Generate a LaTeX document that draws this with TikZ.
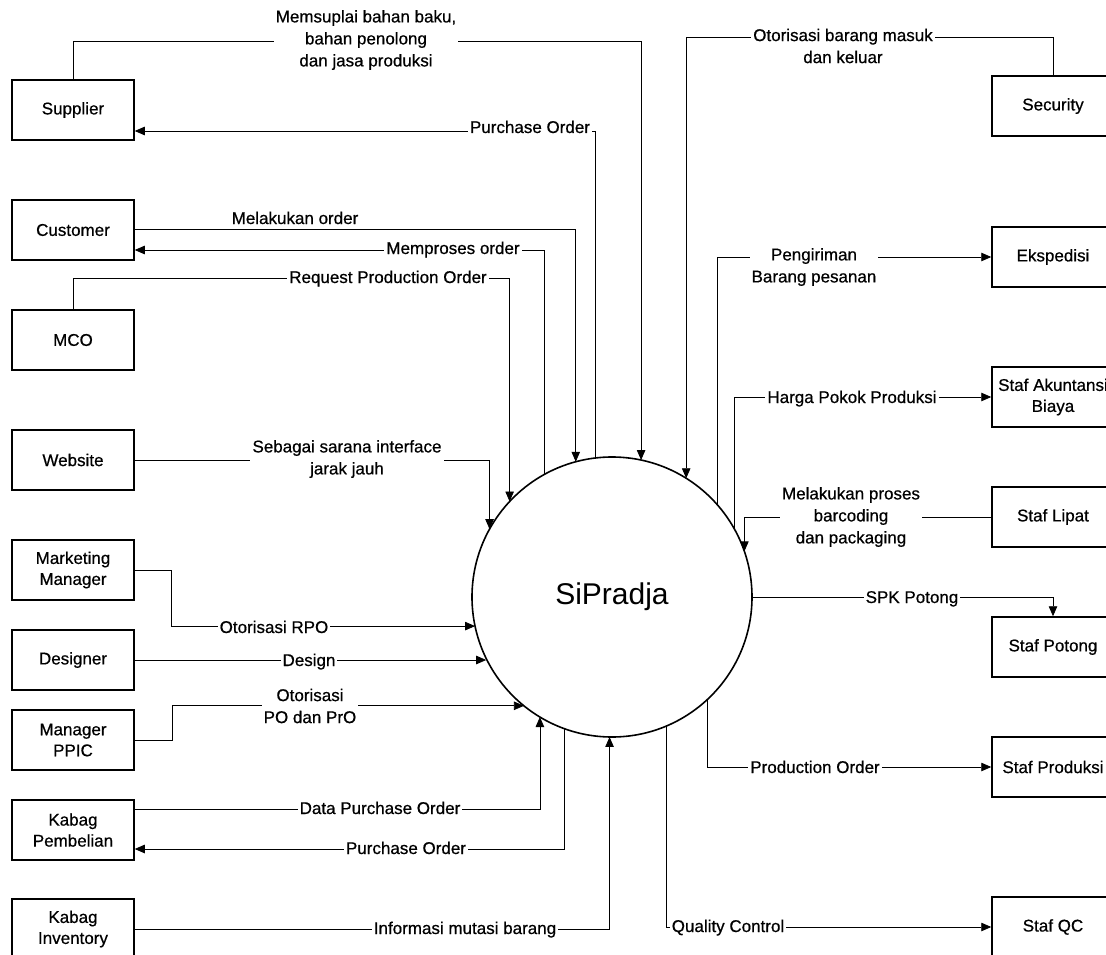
\documentclass[tikz,border=0pt]{standalone}
\usepackage{fontspec}
\setmainfont{Liberation Sans}
\newfontfamily\dfdfont{Liberation Sans}[FakeBold=0.6]
\usetikzlibrary{arrows.meta}
\begin{document}
\begin{tikzpicture}[x=1pt,y=-1pt,
  entity/.style={draw,line width=1.5pt,minimum width=122pt,minimum height=60pt,
    inner sep=2pt,align=center,font=\dfdfont\fontsize{17}{21}\selectfont},
  proc/.style={draw,circle,line width=1.6pt,minimum size=280pt,inner sep=0pt,
    outer sep=0pt,font=\fontsize{30}{36}\selectfont},
  flow/.style={line width=0.8pt},
  arr/.style={flow,-{Triangle[length=10pt,width=8.5pt]}},
  lbl/.style={fill=white,inner sep=2pt,align=center,font=\dfdfont\fontsize{17}{22}\selectfont},
  lblb/.style={lbl,anchor=base},
]
\useasboundingbox (0,0) rectangle (1106,955);

% external entities, left column
\node[entity] (sup)  at (73,110) {Supplier};
\node[entity] (cus)  at (73,230) {Customer};
\node[entity] (mco)  at (73,340) {MCO};
\node[entity] (web)  at (73,460) {Website};
\node[entity] (mm)   at (73,570) {Marketing\\Manager};
\node[entity] (des)  at (73,660) {Designer};
\node[entity] (ppic) at (73,740) {Manager\\PPIC};
\node[entity] (pem)  at (73,830) {Kabag\\Pembelian};
\node[entity] (inv)  at (73,929) {Kabag\\Inventory};

% external entities, right column
\node[entity] (sec) at (1053,106) {Security};
\node[entity] (eks) at (1053,257) {Ekspedisi};
\node[entity] (akt) at (1053,397) {Staf Akuntansi\\Biaya};
\node[entity] (lip) at (1053,517) {Staf Lipat};
\node[entity] (pot) at (1053,647) {Staf Potong};
\node[entity] (prd) at (1053,767) {Staf Produksi};
\node[entity] (qc)  at (1053,927) {Staf QC};

% the system
\node[proc] (sys) at (612,597) {SiPradja};

% data flows
\draw[arr] (sup.north) |- (sys.78.9 |- 0,41) -- (sys.78.9);
\draw[arr] (sys.97.4) |- (sup.east |- 0,131);
\draw[arr] (cus.east |- 0,229) -| (sys.105.7);
\draw[arr] (sys.119.5) |- (cus.east |- 0,250);
\draw[arr] (mco.north) |- (sys.137.4 |- 0,278) -- (sys.137.4);
\draw[arr] (web.east) -| (sys.151.5);
\draw[arr] (sec.north) |- (sys.58.6 |- 0,37) -- (sys.58.6);
\draw[arr] (sys.41.4) |- (eks.west);
\draw[arr] (sys.29.4) |- (akt.west);
\draw[arr] (lip.west) -| (sys.19.5);
\draw[arr] (sys.0) -| (pot.north);
\draw[arr] (mm.east) -- ++(37,0) |- (sys.192.8);
\draw[arr] (des.east) -- (des.east -| sys.206.7);
\draw[arr] (ppic.east) -- ++(38,0) |- (sys.231.8);
\draw[arr] (pem.east |- 0,809) -| (sys.239.0);
\draw[arr] (sys.250.8) |- (pem.east |- 0,849);
\draw[arr] (inv.east) -| (sys.269.2);
\draw[arr] (sys.293.6) |- (qc.west);
\draw[arr] (sys.313.3) |- (prd.west);

% flow labels
\node[lbl] (t1) at (366,40) {Memsuplai bahan baku,\\bahan penolong\\dan jasa produksi};
\node[lblb] (t2) at (530,133) {Purchase Order};
\node[lblb] (t3) at (295,224) {Melakukan order};
\node[lblb] (t4) at (453,254) {Memproses order};
\node[lblb] (t5) at (388,283) {Request Production Order};
\node[lbl] (t6) at (347,459) {Sebagai sarana interface\\jarak jauh};
\node[lbl] (t7) at (843,46) {Otorisasi barang masuk\\dan keluar};
\node[lbl] (t8) at (814,267) {Pengiriman\\Barang pesanan};
\node[lblb] (t9) at (852,403) {Harga Pokok Produksi};
\node[lbl] (t10) at (851,517) {Melakukan proses\\barcoding\\dan packaging};
\node[lblb] (t11) at (912,603) {SPK Potong};
\node[lblb] (t12) at (274,633) {Otorisasi RPO};
\node[lblb] (t13) at (309,666) {Design};
\node[lbl] (t14) at (310,706) {Otorisasi\\PO dan PrO};
\node[lblb] (t15) at (380,814) {Data Purchase Order};
\node[lblb] (t16) at (406,854) {Purchase Order};
\node[lblb] (t17) at (465,934) {Informasi mutasi barang};
\node[lblb] (t18) at (728,932) {Quality Control};
\node[lblb] (t19) at (815,773) {Production Order};
\end{tikzpicture}
\end{document}
